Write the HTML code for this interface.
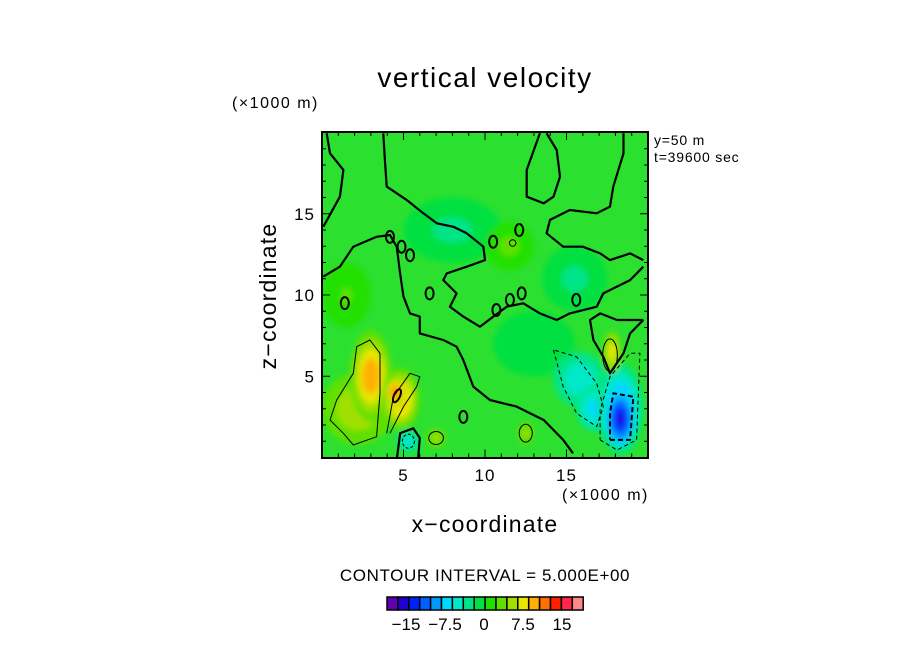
<!DOCTYPE html>
<html><head><meta charset="utf-8">
<style>
body{margin:0;background:#fff;}
svg text{font-family:"Liberation Sans","DejaVu Sans",sans-serif;fill:#000;}
</style></head>
<body>
<svg id="chart" width="904" height="654" viewBox="0 0 904 654">
<defs>
<filter id="blur" x="-50%" y="-50%" width="200%" height="200%"><feGaussianBlur stdDeviation="3"/></filter>
<clipPath id="clip"><rect x="322" y="132" width="326" height="326"/></clipPath>
</defs>
<text x="485" y="87" font-size="28" letter-spacing="1.5" text-anchor="middle">vertical  velocity</text>
<text x="232" y="108" font-size="16" letter-spacing="1.5">(×1000 m)</text>
<text x="562" y="500" font-size="16" letter-spacing="1.5">(×1000 m)</text>
<text x="654" y="145" font-size="14" letter-spacing="0.8">y=50 m</text>
<text x="654" y="162" font-size="14" letter-spacing="0.8">t=39600 sec</text>
<text x="485" y="532" font-size="23" letter-spacing="1.2" text-anchor="middle">x−coordinate</text>
<text x="276" y="296" font-size="23" letter-spacing="1.2" text-anchor="middle" transform="rotate(-90 276 296)">z−coordinate</text>
<text x="485" y="581" font-size="17" letter-spacing="0.6" text-anchor="middle">CONTOUR INTERVAL = 5.000E+00</text>
<g id="field" clip-path="url(#clip)"></g>
<g id="contours" clip-path="url(#clip)"></g>
<rect x="322" y="132" width="326" height="326" fill="none" stroke="#000" stroke-width="2"/>
<g id="ticks"></g>
<g id="cbar"></g>
</svg>
<script>
// ---- data ----
const xTicks=[5,10,15];
const zTicks=[5,10,15];
const blobX=[8,11.5,15.5,13,1.5,2.2,3,4.8,4.5,5.3,7.0,12.5,15.8,16.8,18.3,18.3,17.8];
const blobZ=[14,13,11,7,10,3,5.0,3.6,4,1,1.2,1.5,4.8,3.0,3.0,2.4,6.5];
const blobRX=[3,1.5,2,2.5,1.5,2.2,1.3,1.2,0.6,0.7,0.6,0.5,1.6,1.2,1.4,0.9,0.55];
const blobRZ=[2,1.5,2,2,2,2.2,2.8,1.9,0.9,0.7,0.6,0.7,1.7,1.4,2.8,1.7,1.3];
const blobV=[-3,3,-3,-2,2.5,7,11,10,13,-7,6,6,-7,-9,-10,-17,8];
const zeroContours=[
 [[3.76,19.95],[3.86,18.3],[3.97,16.67],[5.19,15.85],[6.22,15.03],[7.04,14.41],[8.06,14.2],[8.88,13.8],[9.9,12.97],[10.0,12.15],[8.88,11.74],[7.65,11.33],[7.44,10.92],[8.26,10.1],[7.85,9.28],[8.67,8.67],[9.69,8.05],[10.51,8.67],[11.33,9.28],[12.35,9.49],[13.37,8.87],[14.4,8.46],[15.2,8.87],[16.85,9.28],[17.26,10.1],[18.9,10.92],[19.71,11.74]],
 [[0.08,11.13],[1.1,11.74],[1.92,12.97],[3.35,13.58],[4.17,13.69],[4.58,12.97],[4.79,11.33],[5.0,9.9],[5.4,8.87],[6.0,8.67],[6.0,7.64],[7.44,7.23],[8.26,6.82],[8.67,6.0],[9.28,4.36],[10.3,3.54],[11.94,3.13],[13.6,2.31],[14.8,1.08],[15.4,0.26]],
 [[13.37,19.95],[12.56,17.69],[12.56,16.05],[13.6,15.64],[14.2,16.05],[14.6,17.28],[14.4,18.92],[13.78,19.95]],
 [[18.5,19.95],[18.5,18.72],[17.87,16.67],[17.67,15.44],[16.85,15.03],[15.2,15.23],[13.99,14.62],[13.78,13.8],[14.8,12.97],[16.0,12.97],[17.06,12.56],[17.67,12.15],[18.9,12.56],[19.71,12.15]],
 [[19.71,8.46],[18.9,7.64],[18.5,6.41],[17.67,5.18],[17.26,6.2],[16.65,7.23],[16.44,8.46],[17.06,8.87],[18.1,8.46],[19.71,8.46]],
 [[0.29,19.95],[0.49,18.72],[1.31,17.69],[1.1,16.05],[0.08,14.2]],
 [[4.6,0],[4.8,1.5],[5.6,1.8],[6.0,1.2],[5.9,0]]
];
const zeroOvalX=[4.17,4.88,5.4,10.5,10.7,11.53,12.25,8.67,15.6,12.1,1.4,6.6];
const zeroOvalZ=[13.58,12.97,12.45,13.28,9.08,9.7,10.1,2.5,9.7,14.0,9.5,10.1];
const posContours=[
 [[0.49,2.31],[1.31,1.49],[1.92,0.77],[3.35,1.28],[3.56,3.95],[3.56,6.41],[2.94,7.23],[2.13,6.82],[1.92,5.18],[0.9,3.54],[0.49,2.31]],
 [[3.97,1.49],[4.38,3.74],[5.4,5.18],[6.0,4.97],[5.81,4.36],[5.0,3.13],[4.17,1.49]]
];
const posOvalX=[17.67,7.0,12.5,11.7];
const posOvalZ=[6.3,1.2,1.5,13.2];
const posOvalRX=[0.45,0.45,0.4,0.2];
const posOvalRZ=[1.0,0.4,0.55,0.2];
const negContours=[
 [[14.2,6.62],[14.8,4.36],[15.62,2.72],[16.85,1.9],[17.26,3.13],[16.85,4.56],[15.62,6.2],[14.2,6.62]],
 [[17.06,1.08],[18.1,0.46],[19.3,1.08],[19.5,6.41],[18.9,6.41],[17.67,4.97],[17.06,2.92],[17.06,1.08]]
];
const neg10Contours=[[[17.67,1.08],[18.9,1.08],[19.1,3.74],[17.87,3.95],[17.67,2.72],[17.67,1.08]]];
const cbarColors=["#6000b0","#2000d0","#0020ff","#0060ff","#0098ff","#00d8ff","#00e8c8","#00e488","#00e040","#20e000","#60e000","#a0e000","#e8e800","#ffb000","#ff7000","#ff2000","#ff2848","#ff8888"];
const cbarLabels=["−15","−7.5","0","7.5","15"];
const cbarLabelVals=[-15,-7.5,0,7.5,15];
// ---- scales ----
const X=v=>322+v*16.3, Z=v=>457.5-v*16.25;
const NS="http://www.w3.org/2000/svg";
function mk(t,a,p){const e=document.createElementNS(NS,t);for(const k in a)e.setAttribute(k,a[k]);p.appendChild(e);return e;}
function col(v){let i=Math.floor((v+22.5)/2.5);i=Math.max(0,Math.min(17,i));return cbarColors[i];}
const field=document.getElementById('field');
const bg=mk('rect',{x:322,y:132,width:326,height:326,fill:"#2ce030"},field);


const bl=mk('g',{filter:"url(#blur)"},field);
const levels=[1,0.8,0.6,0.4,0.22];
const fracs=[0.45,0.65,0.82,0.95,1.05];
for(let i=0;i<blobX.length;i++){
 for(let k=0;k<levels.length;k++){
  const e=mk('ellipse',{cx:X(blobX[i]),cy:Z(blobZ[i]),rx:blobRX[i]*16.3*levels[k],ry:blobRZ[i]*16.25*levels[k],fill:col(blobV[i]*fracs[k])},bl);
  
  
 }
}
const cg=document.getElementById('contours');
function poly(pts,w,dash){const d=pts.map((p,i)=>(i?'L':'M')+X(p[0]).toFixed(1)+','+Z(p[1]).toFixed(1)).join('');
 const a={d:d,fill:"none",stroke:"#000","stroke-width":w,"stroke-linejoin":"round"};if(dash)a["stroke-dasharray"]=dash;return mk('path',a,cg);}
zeroContours.forEach(c=>{const p=poly(c,2.2);});
zeroOvalX.forEach((x,i)=>{const e=mk('ellipse',{cx:X(x),cy:Z(zeroOvalZ[i]),rx:4,ry:6,fill:"none",stroke:"#000","stroke-width":2},cg);
 });
posContours.forEach(c=>{const p=poly(c,1);});
posOvalX.forEach((x,i)=>{const e=mk('ellipse',{cx:X(x),cy:Z(posOvalZ[i]),rx:posOvalRX[i]*16.3,ry:posOvalRZ[i]*16.25,fill:"none",stroke:"#000","stroke-width":1},cg);
 });
const e10=mk('ellipse',{cx:X(4.6),cy:Z(3.8),rx:3,ry:7,transform:`rotate(25 ${X(4.6)} ${Z(3.8)})`,fill:"none",stroke:"#000","stroke-width":2},cg);

negContours.forEach(c=>{const p=poly(c,1,"4,3");});
neg10Contours.forEach(c=>{const p=poly(c,2,"5,3");});
const nc=mk('ellipse',{cx:X(5.3),cy:Z(1),rx:6,ry:7,fill:"none",stroke:"#000","stroke-width":1,"stroke-dasharray":"3,2"},cg);

// ticks
const tg=document.getElementById('ticks');
for(let v=1;v<20;v++){const L=v%5===0?8:4;
 const a=mk('line',{x1:X(v),x2:X(v),y1:457.5,y2:457.5-L,stroke:"#000"},tg);
 const b=mk('line',{x1:X(v),x2:X(v),y1:132,y2:132+L,stroke:"#000"},tg);
 const c=mk('line',{x1:322,x2:322+L,y1:Z(v),y2:Z(v),stroke:"#000"},tg);
 const d=mk('line',{x1:648,x2:648-L,y1:Z(v),y2:Z(v),stroke:"#000"},tg);}
xTicks.forEach(v=>{const t=mk('text',{x:X(v),y:481,"font-size":17,"letter-spacing":1,"text-anchor":"middle"},tg);t.textContent=v;
 });
zTicks.forEach(v=>{const t=mk('text',{x:315,y:Z(v)+6,"font-size":17,"letter-spacing":1,"text-anchor":"end"},tg);t.textContent=v;
 });
// colorbar
const cb=document.getElementById('cbar');const cw=10.9,cx0=387;
cbarColors.forEach((c,i)=>{const r=mk('rect',{x:cx0+i*cw,y:597,width:cw,height:13,fill:c,stroke:"#000","stroke-width":1.5},cb);
 });
cbarLabels.forEach((l,i)=>{const t=mk('text',{x:484+cbarLabelVals[i]*5.2,y:630,"font-size":17,"text-anchor":"middle"},cb);t.textContent=l;
 });
</script>
</body></html>
